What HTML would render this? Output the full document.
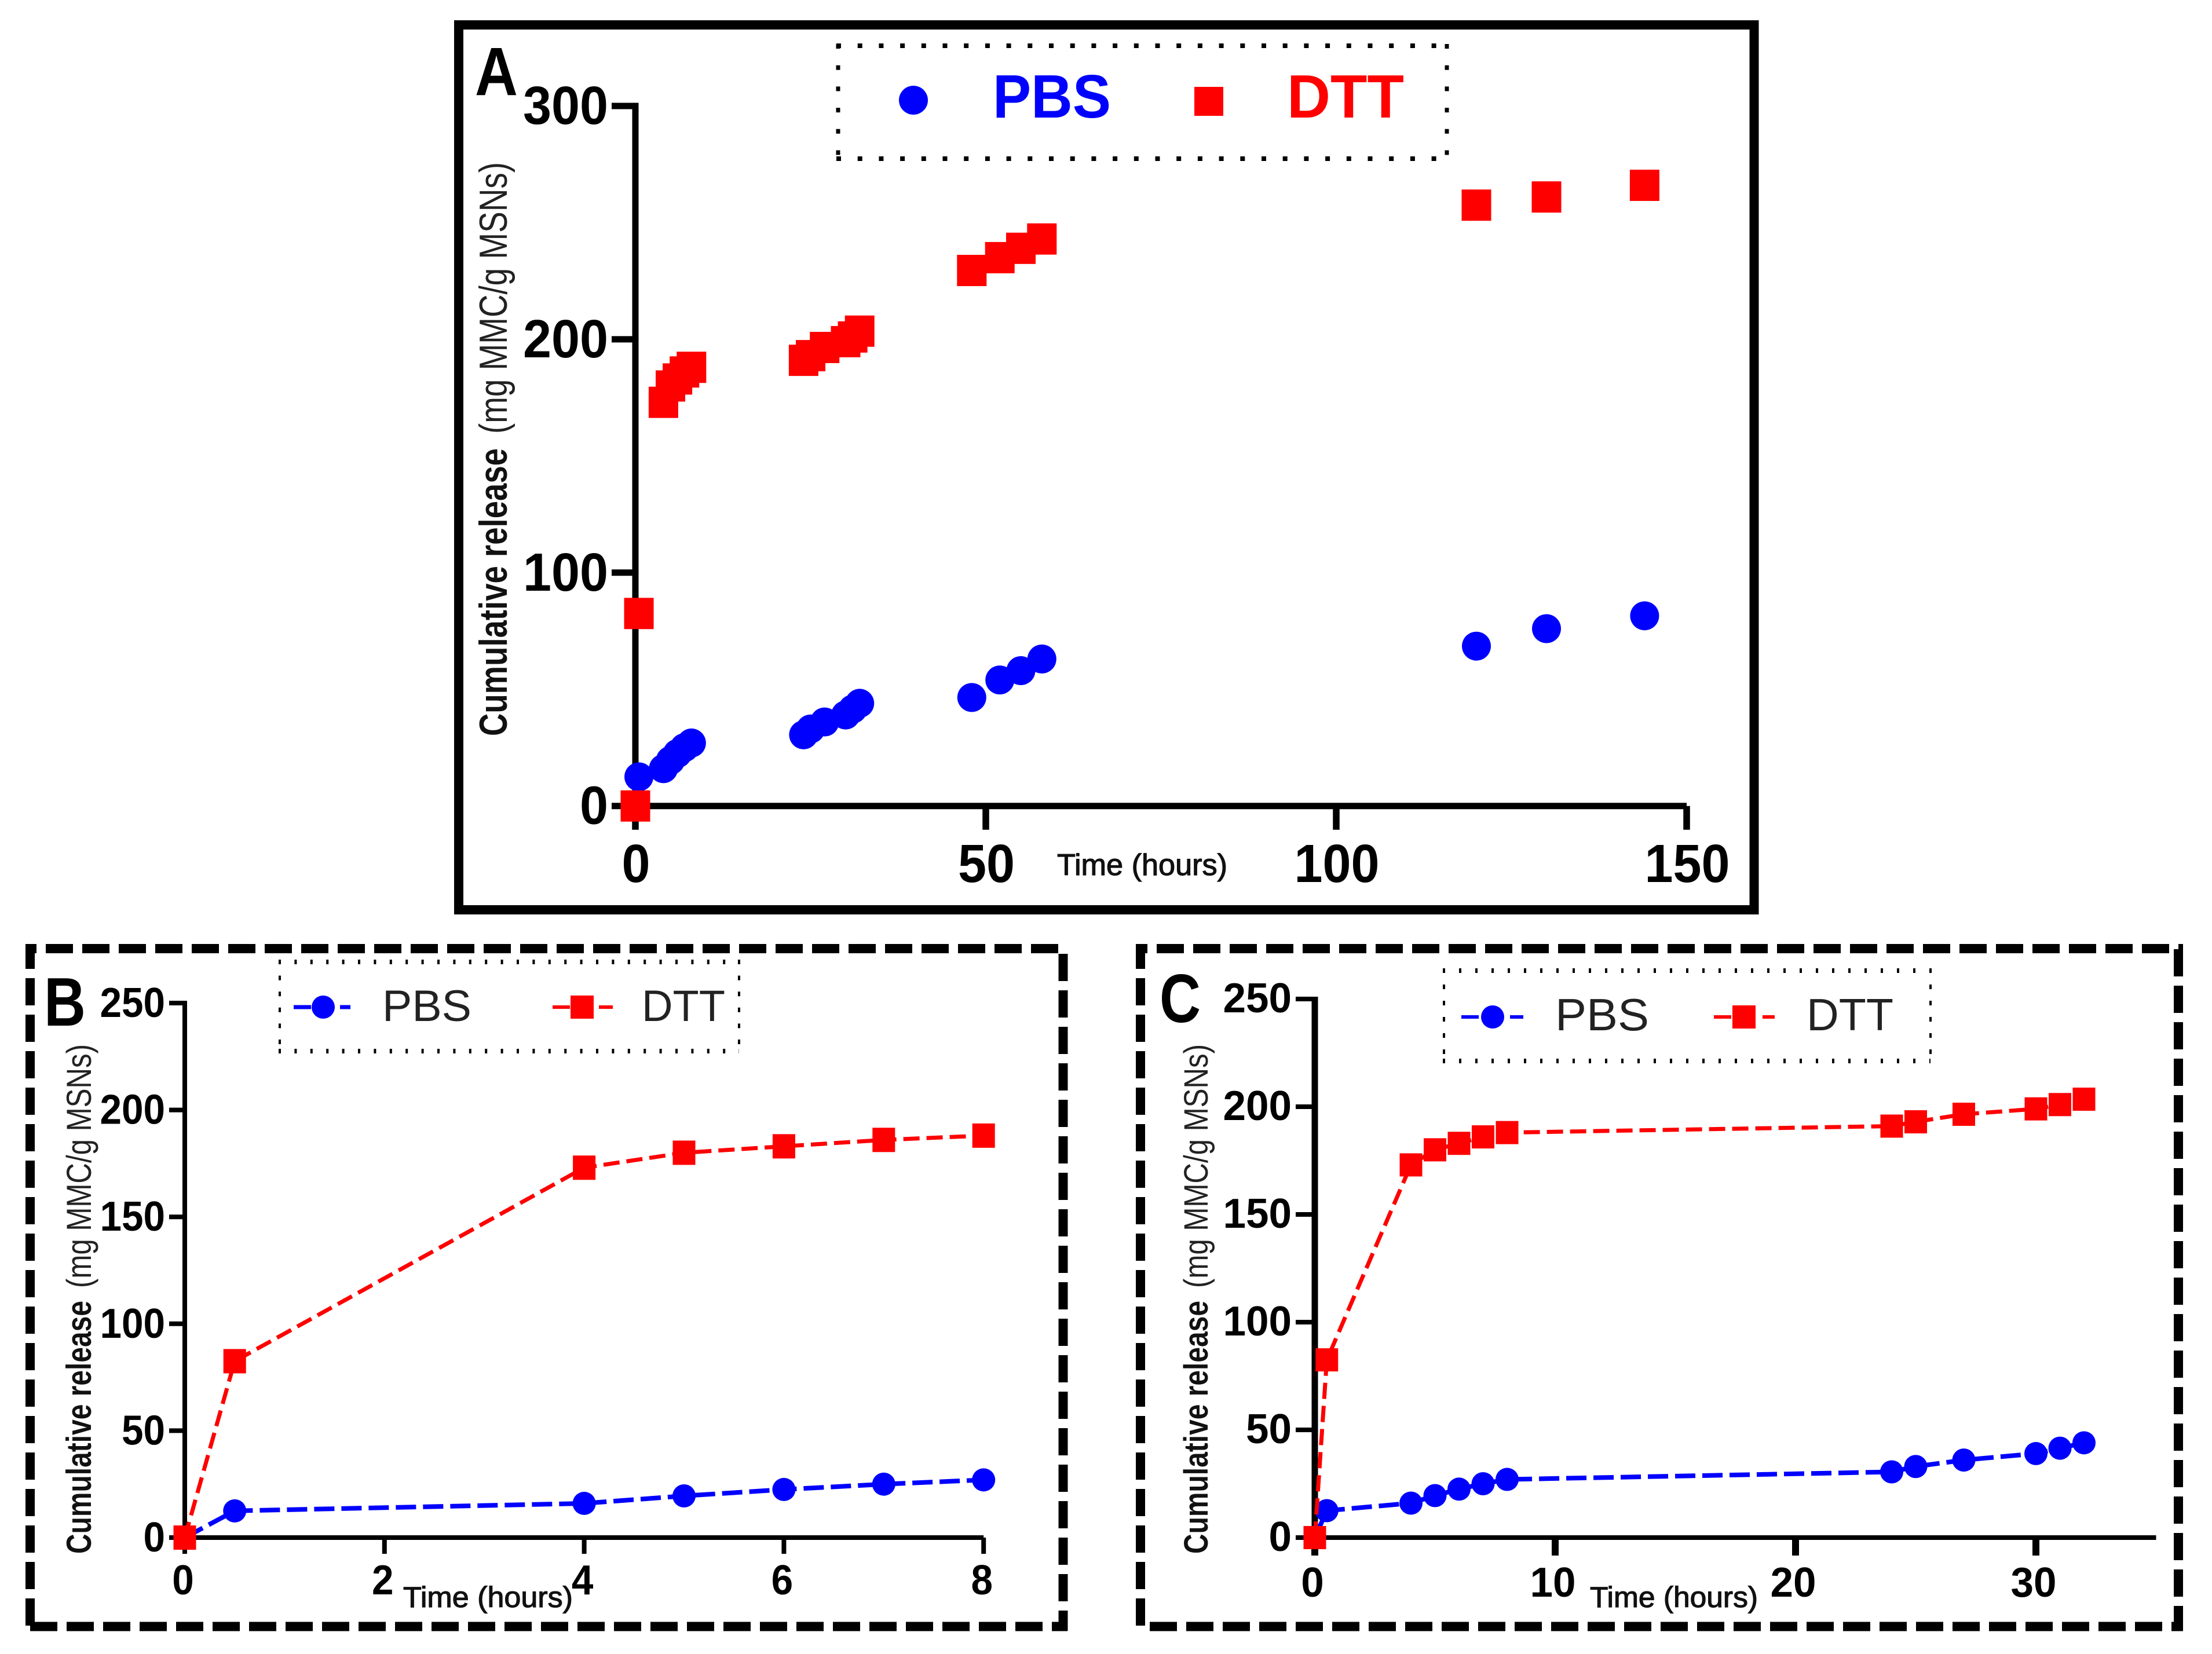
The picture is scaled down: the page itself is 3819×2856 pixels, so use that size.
<!DOCTYPE html>
<html lang="en">
<head>
<meta charset="utf-8">
<title>Cumulative release of MMC from MSNs</title>
<style>
html,body{margin:0;padding:0;background:#fff}
svg{display:block}
text{font-family:"Liberation Sans",sans-serif}
</style>
</head>
<body>
<svg xmlns="http://www.w3.org/2000/svg" width="3819" height="2856" viewBox="0 0 3819 2856">
  <rect x="0" y="0" width="3819" height="2856" fill="#fff"/>

  <!-- Panel A -->
  <g>
    <rect x="792" y="43" width="2236.5" height="1528" fill="none" stroke="#000" stroke-width="16"/>
    <text x="820" y="164" font-size="118" font-weight="bold" fill="#000" textLength="74" lengthAdjust="spacingAndGlyphs">A</text>
    <text transform="rotate(-90 875 1271)" x="875" y="1271" font-size="68" font-weight="bold" fill="#111" textLength="497" lengthAdjust="spacingAndGlyphs">Cumulative release</text>
    <text transform="rotate(-90 875 749)" x="875" y="749" font-size="68" fill="#222" textLength="469" lengthAdjust="spacingAndGlyphs">(mg MMC/g MSNs)</text>
    <text x="1825" y="1511" font-size="52" fill="#111" textLength="294" lengthAdjust="spacingAndGlyphs" stroke="#111" stroke-width="1.2">Time (hours)</text>
    <g id="panel-a-chart"></g>
    <g>
      <g stroke="#000" fill="none">
        <line x1="1444" y1="79" x2="2501" y2="79" stroke-width="8" stroke-dasharray="8 28.7"/>
        <line x1="1444" y1="274" x2="2501" y2="274" stroke-width="8" stroke-dasharray="8 28.7"/>
        <line x1="1447" y1="76" x2="1447" y2="277" stroke-width="7" stroke-dasharray="8 28.7"/>
        <line x1="2498" y1="76" x2="2498" y2="277" stroke-width="7" stroke-dasharray="8 28.7"/>
      </g>
      <circle cx="1577" cy="173" r="25" fill="#0000ff"/>
      <text x="1714" y="203" font-size="106" font-weight="bold" fill="#0000ff" textLength="204" lengthAdjust="spacingAndGlyphs">PBS</text>
      <rect x="2072" y="150" width="50" height="50" fill="#ff0000" transform="translate(-10 0)"/>
      <text x="2222" y="203" font-size="106" font-weight="bold" fill="#ff0000" textLength="202" lengthAdjust="spacingAndGlyphs">DTT</text>
    </g>
  </g>

  <!-- Panel B -->
  <g>
    <g fill="none" stroke="#000" stroke-width="16">
      <line x1="44" y1="1638" x2="1843" y2="1638" stroke-dasharray="47 16" stroke-dashoffset="28"/>
      <line x1="52" y1="1630" x2="52" y2="2808" stroke-dasharray="47 16" stroke-dashoffset="4"/>
      <line x1="52" y1="2808.5" x2="1843" y2="2808.5" stroke-dasharray="47 16"/>
      <line x1="1835.5" y1="1647" x2="1835.5" y2="2816" stroke-dasharray="47 16"/>
    </g>
    <text x="76" y="1771" font-size="119" font-weight="bold" fill="#000" textLength="72" lengthAdjust="spacingAndGlyphs">B</text>
    <text transform="rotate(-90 157 2683)" x="157" y="2683" font-size="60" font-weight="bold" fill="#111" textLength="437" lengthAdjust="spacingAndGlyphs">Cumulative release</text>
    <text transform="rotate(-90 157 2224)" x="157" y="2224" font-size="60" fill="#222" textLength="421" lengthAdjust="spacingAndGlyphs">(mg MMC/g MSNs)</text>
    <text x="696" y="2775" font-size="50" fill="#111" textLength="293" lengthAdjust="spacingAndGlyphs" stroke="#111" stroke-width="1.2">Time (hours)</text>
    <g id="panel-b-chart"></g>
    <g>
      <g stroke="#000" fill="none">
        <line x1="481" y1="1661" x2="1276" y2="1661" stroke-width="8" stroke-dasharray="4 23.4"/>
        <line x1="481" y1="1815" x2="1276" y2="1815" stroke-width="8" stroke-dasharray="4 23.4"/>
        <line x1="483" y1="1657" x2="483" y2="1819" stroke-width="4" stroke-dasharray="8 19.6"/>
        <line x1="1276" y1="1657" x2="1276" y2="1819" stroke-width="4" stroke-dasharray="8 19.6"/>
      </g>
      <line x1="507" y1="1739" x2="605" y2="1739" stroke="#0000ff" stroke-width="7" stroke-dasharray="30 10"/>
      <circle cx="558" cy="1739" r="20" fill="#0000ff"/>
      <text x="660" y="1763" font-size="76" fill="#222" textLength="154" lengthAdjust="spacingAndGlyphs">PBS</text>
      <line x1="954" y1="1739" x2="1058" y2="1739" stroke="#ff0000" stroke-width="6" stroke-dasharray="30 10"/>
      <rect x="985" y="1719" width="40" height="40" fill="#ff0000"/>
      <text x="1108" y="1763" font-size="76" fill="#222" textLength="144" lengthAdjust="spacingAndGlyphs">DTT</text>
    </g>
  </g>

  <!-- Panel C -->
  <g>
    <g fill="none" stroke="#000" stroke-width="16">
      <line x1="1961" y1="1638" x2="3769" y2="1638" stroke-dasharray="47 16" stroke-dashoffset="27"/>
      <line x1="1969" y1="1630" x2="1969" y2="2808" stroke-dasharray="47 16" stroke-dashoffset="4"/>
      <line x1="1985" y1="2808.5" x2="3769" y2="2808.5" stroke-dasharray="47 16"/>
      <line x1="3761" y1="1639" x2="3761" y2="2816" stroke-dasharray="47 16"/>
    </g>
    <text x="2002" y="1765" font-size="119" font-weight="bold" fill="#000" textLength="71" lengthAdjust="spacingAndGlyphs">C</text>
    <text transform="rotate(-90 2085 2683)" x="2085" y="2683" font-size="58" font-weight="bold" fill="#111" textLength="437" lengthAdjust="spacingAndGlyphs">Cumulative release</text>
    <text transform="rotate(-90 2085 2224)" x="2085" y="2224" font-size="58" fill="#222" textLength="421" lengthAdjust="spacingAndGlyphs">(mg MMC/g MSNs)</text>
    <text x="2745" y="2775" font-size="50" fill="#111" textLength="290" lengthAdjust="spacingAndGlyphs" stroke="#111" stroke-width="1.2">Time (hours)</text>
    <g id="panel-c-chart"></g>
    <g>
      <g stroke="#000" fill="none">
        <line x1="2491" y1="1676" x2="3333" y2="1676" stroke-width="8" stroke-dasharray="4 24"/>
        <line x1="2491" y1="1832" x2="3333" y2="1832" stroke-width="8" stroke-dasharray="4 24"/>
        <line x1="2493" y1="1672" x2="2493" y2="1836" stroke-width="4" stroke-dasharray="8 20"/>
        <line x1="3333" y1="1672" x2="3333" y2="1836" stroke-width="4" stroke-dasharray="8 20"/>
      </g>
      <line x1="2523" y1="1756" x2="2630" y2="1756" stroke="#0000ff" stroke-width="6" stroke-dasharray="30 12"/>
      <circle cx="2577" cy="1756" r="20" fill="#0000ff"/>
      <text x="2685" y="1779" font-size="78" fill="#222" textLength="162" lengthAdjust="spacingAndGlyphs">PBS</text>
      <line x1="2959" y1="1756" x2="3064" y2="1756" stroke="#ff0000" stroke-width="6" stroke-dasharray="30 12"/>
      <rect x="2991" y="1736" width="40" height="40" fill="#ff0000"/>
      <text x="3119" y="1779" font-size="78" fill="#222" textLength="150" lengthAdjust="spacingAndGlyphs">DTT</text>
    </g>
  </g>
</svg>

<script>
// Data: shared time points and release values
const hours = [0, 0.5, 4, 5, 6, 7, 8, 24, 25, 27, 30, 31, 32, 48, 52, 55, 58, 120, 130, 144];
const pbsRelease = [0, 12.5, 16, 19.5, 22.5, 25, 27, 30.5, 33, 36, 39, 41.5, 44, 46.5, 54, 58, 63, 68.5, 76, 81.5];
const dttRelease = [0, 82.5, 173, 180, 183, 186, 188, 191, 193, 196.5, 199, 201, 203.5, 229.5, 235, 239, 243, 257.5, 261, 266];

const xTicksA = [0, 50, 100, 150];
const yTicksA = [0, 100, 200, 300];
const xTicksB = [0, 2, 4, 6, 8];
const yTicksB = [0, 50, 100, 150, 200, 250];
const xTicksC = [0, 10, 20, 30];
const yTicksC = [0, 50, 100, 150, 200, 250];

const NS = 'http://www.w3.org/2000/svg';

function line(parent, name, x1, y1, x2, y2, color, width, dash) {
  const el = document.createElementNS(NS, 'line');
  el.setAttribute('x1', x1);
  el.setAttribute('y1', y1);
  el.setAttribute('x2', x2);
  el.setAttribute('y2', y2);
  el.setAttribute('stroke', color);
  el.setAttribute('stroke-width', width);
  if (dash) el.setAttribute('stroke-dasharray', dash);
  
  
  parent.appendChild(el);
}

function label(parent, name, str, x, baseline, size, digitW) {
  const el = document.createElementNS(NS, 'text');
  el.setAttribute('x', x);
  el.setAttribute('y', baseline);
  el.setAttribute('font-size', size);
  el.setAttribute('font-weight', 'bold');
  el.setAttribute('fill', '#000');
  el.setAttribute('textLength', str.length * digitW);
  el.setAttribute('lengthAdjust', 'spacingAndGlyphs');
  
  
  el.textContent = str;
  parent.appendChild(el);
}

function drawPanel(cfg) {
  const root = document.getElementById(cfg.id);
  const X = function (v) { return cfg.x0 + v * cfg.xPerUnit; };
  const Y = function (v) { return cfg.y0 - v * cfg.yPerUnit; };
  const n = hours.filter(function (h) { return h <= cfg.xMax; }).length;

  // axes
  line(root, cfg.key + '-y-axis', X(0), Y(cfg.yTicks[cfg.yTicks.length - 1]) - cfg.tickW / 2, X(0), Y(0) + cfg.xAxisW / 2, '#000', cfg.yAxisW);
  line(root, cfg.key + '-x-axis', X(0), Y(0), X(cfg.xAxisEnd), Y(0), '#000', cfg.xAxisW);

  cfg.yTicks.forEach(function (t) {
    line(root, cfg.key + '-y-tick', X(0) - cfg.yTickLen, Y(t), X(0), Y(t), '#000', cfg.tickW);
    const str = String(t);
    label(root, cfg.key + '-y-tick-label', str, cfg.yLabelRight - str.length * cfg.digitW, Y(t) + cfg.yLabelDy, cfg.fontSize, cfg.digitW);
  });
  cfg.xTicks.forEach(function (t) {
    line(root, cfg.key + '-x-tick', X(t), Y(0), X(t), Y(0) + cfg.xTickLen, '#000', cfg.xTickW);
    const str = String(t);
    label(root, cfg.key + '-x-tick-label', str, X(t) + cfg.xLabelDx - str.length * cfg.digitW / 2, cfg.xLabelBase, cfg.fontSize, cfg.digitW);
  });

  // series lines
  if (cfg.lines) {
    const pbsLine = document.createElementNS(NS, 'polyline');
    pbsLine.setAttribute('points', hours.slice(0, n).map(function (h, i) { return X(h) + ',' + Y(pbsRelease[i]); }).join(' '));
    pbsLine.setAttribute('fill', 'none');
    pbsLine.setAttribute('stroke', '#0000ff');
    pbsLine.setAttribute('stroke-width', '8');
    pbsLine.setAttribute('stroke-dasharray', '35 12');
    
    
    root.appendChild(pbsLine);
  }

  // PBS markers
  hours.slice(0, n).forEach(function (h, i) {
    const c = document.createElementNS(NS, 'circle');
    c.setAttribute('cx', X(h));
    c.setAttribute('cy', Y(pbsRelease[i]));
    c.setAttribute('r', cfg.circleR);
    c.setAttribute('fill', '#0000ff');
    
    
    root.appendChild(c);
  });

  if (cfg.lines) {
    const dttLine = document.createElementNS(NS, 'polyline');
    dttLine.setAttribute('points', hours.slice(0, n).map(function (h, i) { return X(h) + ',' + Y(dttRelease[i]); }).join(' '));
    dttLine.setAttribute('fill', 'none');
    dttLine.setAttribute('stroke', '#ff0000');
    dttLine.setAttribute('stroke-width', '7');
    dttLine.setAttribute('stroke-dasharray', '28 12');
    
    
    root.appendChild(dttLine);
  }

  // DTT markers
  hours.slice(0, n).forEach(function (h, i) {
    const r = document.createElementNS(NS, 'rect');
    r.setAttribute('x', X(h) - cfg.squareW / 2);
    r.setAttribute('y', Y(dttRelease[i]) - cfg.squareH / 2);
    r.setAttribute('width', cfg.squareW);
    r.setAttribute('height', cfg.squareH);
    r.setAttribute('fill', '#ff0000');
    
    
    root.appendChild(r);
  });
}

drawPanel({
  id: 'panel-a-chart', key: 'panel-a', xTicks: xTicksA, yTicks: yTicksA, xMax: 150, xAxisEnd: 150,
  x0: 1097, xPerUnit: 12.1, y0: 1391.7, yPerUnit: 4.029,
  yAxisW: 11, xAxisW: 11, tickW: 11, xTickW: 11.5, yTickLen: 41, xTickLen: 41,
  fontSize: 93, digitW: 49, yLabelRight: 1050, yLabelDy: 31, xLabelBase: 1523, xLabelDx: 1,
  lines: false, circleR: 25, squareW: 51, squareH: 54
});
drawPanel({
  id: 'panel-b-chart', key: 'panel-b', xTicks: xTicksB, yTicks: yTicksB, xMax: 8, xAxisEnd: 8,
  x0: 319, xPerUnit: 172.4, y0: 2655, yPerUnit: 3.692,
  yAxisW: 8, xAxisW: 8, tickW: 8, xTickW: 8, yTickLen: 27, xTickLen: 28,
  fontSize: 72, digitW: 37.5, yLabelRight: 285, yLabelDy: 24, xLabelBase: 2753, xLabelDx: -3,
  lines: true, circleR: 20, squareW: 39, squareH: 42
});
drawPanel({
  id: 'panel-c-chart', key: 'panel-c', xTicks: xTicksC, yTicks: yTicksC, xMax: 35, xAxisEnd: 35,
  x0: 2270, xPerUnit: 41.5, y0: 2655, yPerUnit: 3.72,
  yAxisW: 11, xAxisW: 8, tickW: 8, xTickW: 12, yTickLen: 33, xTickLen: 31,
  fontSize: 72, digitW: 39.5, yLabelRight: 2230, yLabelDy: 23, xLabelBase: 2757, xLabelDx: -4,
  lines: true, circleR: 20, squareW: 39, squareH: 40
});
</script>
</body>
</html>
